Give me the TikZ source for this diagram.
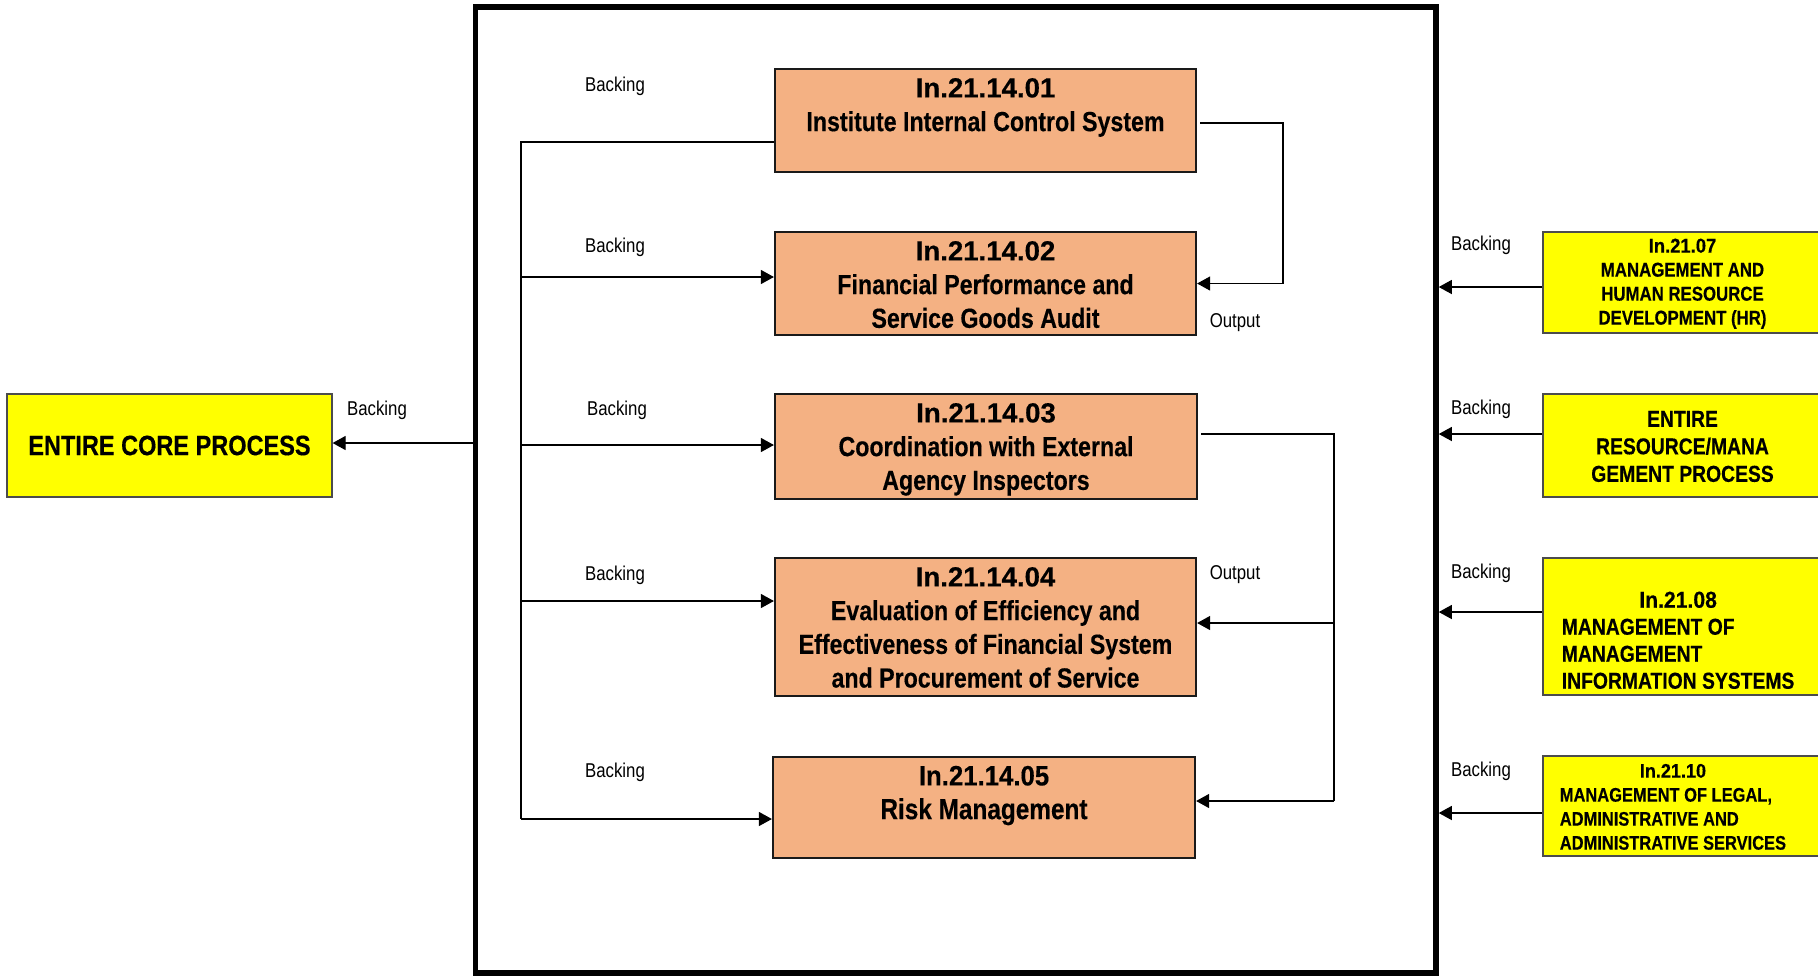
\documentclass[tikz,border=0pt]{standalone}
\usepackage{fontspec}
\setmainfont{Liberation Sans}[FakeStretch=0.84,BoldFeatures={FakeBold=0.35}]
\newfontfamily\widefont{Liberation Sans}[BoldFeatures={FakeBold=0.35}]
\newfontfamily\midfont{Liberation Sans}[FakeStretch=0.92,BoldFeatures={FakeBold=0.35}]
\usetikzlibrary{arrows.meta,calc}
\definecolor{procfill}{HTML}{F4B183}
\definecolor{supfill}{HTML}{FFFF00}
\definecolor{edgegray}{HTML}{1A1A1A}
\newcommand\boxlines[2]{\begin{tabular}{@{}#1@{}}#2\end{tabular}}
\begin{document}
\begin{tikzpicture}[x=0.5pt,y=-0.5pt,
  proc/.style={draw=edgegray,line width=1.1pt,fill=procfill,minimum width=210.5pt,inner sep=0pt},
  proctext/.style={anchor=north,inner sep=0pt,font=\bfseries\fontsize{13.8}{16.85}\selectfont},
  sup/.style={draw=black!70,line width=0.6pt,fill=supfill,minimum width=139.5pt,inner sep=0pt},
  lbl/.style={inner sep=0pt,font=\fontsize{10}{12}\selectfont},
  conn/.style={line width=0.6pt},
  arr/.style={conn,-{Triangle[length=6.5pt,width=7pt]}},
]
\useasboundingbox (0,0) rectangle (1818,976);
\fill[white] (0,0) rectangle (1818,976);

% outer frame of the process
\node[draw,line width=2.75pt,minimum width=480.25pt,minimum height=483pt,inner sep=0pt] (frame) at (955.75,490) {};

% sub-process boxes
\node[proc,minimum height=51.5pt] (b1) at (985.5,120.5) {};
\node[proc,minimum height=51.5pt] (b2) at (985.5,283.5) {};
\node[proc,minimum width=211pt,minimum height=52.5pt] (b3) at (986,446.5) {};
\node[proc,minimum height=69pt] (b4) at (985.5,627) {};
\node[proc,minimum width=211pt,minimum height=50.5pt] (b5) at (984,807.5) {};

\node[proctext] (t1) at ($(b1.north)+(0,5.5)$) {\boxlines{c}{{\widefont In.21.14.01}\\Institute Internal Control System}};
\node[proctext] (t2) at ($(b2.north)+(0,5.5)$) {\boxlines{c}{{\widefont In.21.14.02}\\Financial Performance and\\Service Goods Audit}};
\node[proctext] (t3) at ($(b3.north)+(0,5.5)$) {\boxlines{c}{{\widefont In.21.14.03}\\Coordination with External\\Agency Inspectors}};
\node[proctext] (t4) at ($(b4.north)+(0,5.5)$) {\boxlines{c}{{\widefont In.21.14.04}\\Evaluation of Efficiency and\\Effectiveness of Financial System\\and Procurement of Service}};
\node[proctext,font=\bfseries\fontsize{14.5}{16.85}\selectfont] (t5) at ($(b5.north)+(0,5.5)$) {\boxlines{c}{{\midfont\fontsize{14}{16.85}\selectfont In.21.14.05}\\Risk Management}};

% supporting processes
\node[sup,minimum width=162.5pt,minimum height=51.5pt,font=\bfseries\fontsize{14}{16}\selectfont] (core) at (169.5,445.5) {ENTIRE CORE PROCESS};

\node[sup,minimum height=50.5pt] (r1) at (1682.5,282.5) {};
\node[sup,minimum height=51.5pt] (r2) at (1682.5,445.5) {};
\node[sup,minimum height=68.5pt] (r3) at (1682.5,626.5) {};
\node[sup,minimum height=50pt] (r4) at (1682.5,806) {};

\node[anchor=north,inner sep=0pt,font=\bfseries\fontsize{10}{12}\selectfont] (r1t) at ($(r1.north)+(0,4)$)
  {\boxlines{c}{{\midfont In.21.07}\\MANAGEMENT AND\\HUMAN RESOURCE\\DEVELOPMENT (HR)}};
\node[anchor=north,inner sep=0pt,font=\bfseries\fontsize{11.5}{13.75}\selectfont] (r2t) at ($(r2.north)+(0,13.75)$)
  {\boxlines{c}{ENTIRE\\RESOURCE/MANA\\GEMENT PROCESS}};
\node[anchor=north west,inner sep=0pt,font=\bfseries\fontsize{11.5}{13.5}\selectfont] (r3t) at ($(r3.north west)+(19,31)$)
  {\boxlines{l}{\multicolumn{1}{@{}c@{}}{\midfont In.21.08}\\MANAGEMENT OF\\MANAGEMENT\\INFORMATION SYSTEMS}};
\node[anchor=north west,inner sep=0pt,font=\bfseries\fontsize{9.8}{12}\selectfont] (r4t) at ($(r4.north west)+(17,5)$)
  {\boxlines{l}{\multicolumn{1}{@{}c@{}}{\midfont In.21.10}\\MANAGEMENT OF LEGAL,\\ADMINISTRATIVE AND\\ADMINISTRATIVE SERVICES}};

% backing trunk on the left of the sub-processes
\coordinate (trunkA) at (521,142);
\coordinate (src1) at ($(b1.west)+(0,21.5)$);
\coordinate (in2) at ($(b2.west)+(0,-6.5)$);
\coordinate (in3) at ($(b3.west)+(0,-1.5)$);
\coordinate (in4) at ($(b4.west)+(0,-26)$);
\coordinate (in5) at ($(b5.west)+(0,11.5)$);
\draw[conn] (src1) -- (src1 -| trunkA) -- (in5 -| trunkA);
\draw[arr] (in2 -| trunkA) -- (in2);
\draw[arr] (in3 -| trunkA) -- (in3);
\draw[arr] (in4 -| trunkA) -- (in4);
\draw[arr] (in5 -| trunkA) -- (in5);

% output loops on the right
\coordinate (loopA) at (1283,0);
\coordinate (loopB) at (1334,0);
\coordinate (out1) at ($(b1.east)+(3,2.5)$);
\draw[arr] (out1) -| (loopA |- b2.east) -- (b2.east);
\coordinate (out3) at ($(b3.east)+(3,-12.5)$);
\coordinate (fb4) at ($(b4.east)+(0,-4)$);
\coordinate (fb5) at ($(b5.east)+(0,-6.5)$);
\draw[conn] (out3) -| (loopB |- fb5);
\draw[arr] (loopB |- fb4) -- (fb4);
\draw[arr] (loopB |- fb5) -- (fb5);

% links across the frame
\coordinate (c1) at ($(core.east)+(0,-2.5)$);
\draw[arr] (c1 -| frame.west) -- (c1);
\coordinate (s1) at ($(r1.west)+(0,4.5)$);
\coordinate (s2) at ($(r2.west)+(0,-11.5)$);
\coordinate (s3) at ($(r3.west)+(0,-14.5)$);
\coordinate (s4) at ($(r4.west)+(0,7)$);
\draw[arr] (s1) -- (s1 -| frame.east);
\draw[arr] (s2) -- (s2 -| frame.east);
\draw[arr] (s3) -- (s3 -| frame.east);
\draw[arr] (s4) -- (s4 -| frame.east);

% labels
\node[lbl] (bk1) at (615,86) {Backing};
\node[lbl] (bk2) at (615,247) {Backing};
\node[lbl] (bk3) at (617,410) {Backing};
\node[lbl] (bk4) at (615,575) {Backing};
\node[lbl] (bk5) at (615,772) {Backing};
\node[lbl] (bkc) at (377,410) {Backing};
\node[lbl] (bkr1) at (1481,245) {Backing};
\node[lbl] (bkr2) at (1481,409) {Backing};
\node[lbl] (bkr3) at (1481,573) {Backing};
\node[lbl] (bkr4) at (1481,771) {Backing};
\node[lbl] (op1) at (1235,323) {Output};
\node[lbl] (op2) at (1235,575) {Output};
\end{tikzpicture}
\end{document}
